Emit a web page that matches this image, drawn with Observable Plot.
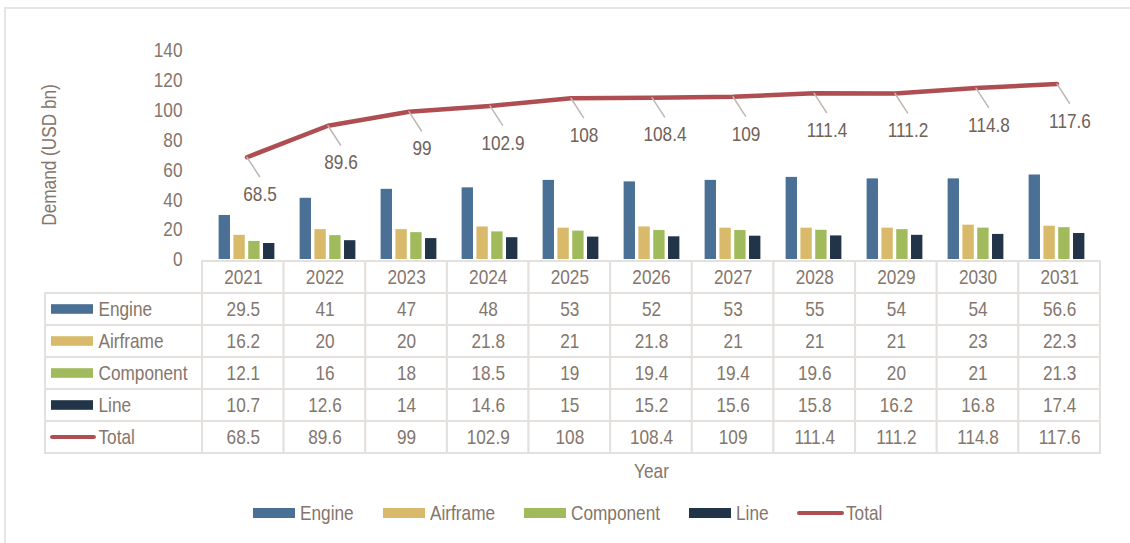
<!DOCTYPE html>
<html><head><meta charset="utf-8">
<script src="https://cdn.jsdelivr.net/npm/d3@7"></script>
<script src="https://cdn.jsdelivr.net/npm/@observablehq/plot@0.6"></script>
<style>
html,body{margin:0;padding:0;background:#fff;}
#wrap{position:relative;width:1130px;height:543px;overflow:hidden;background:#fff;font-family:'Liberation Sans',Arial,sans-serif;}
#border{position:absolute;left:4px;top:7px;width:1140px;height:560px;border-top:2px solid #e8e4e1;border-left:2px solid #e8e4e1;}
.layer{position:absolute;left:0;top:0;}
#legend{position:absolute;left:253px;top:500px;height:26px;display:flex;align-items:center;font-size:21px;color:#84766c;white-space:nowrap;}
#legend .item{display:flex;align-items:center;margin-right:29px;}
#legend .sw{display:inline-block;width:42px;height:10px;margin-right:5px;}
#legend .ln{display:inline-block;width:47px;height:4.5px;border-radius:2.5px;margin-right:2px;}
#legend .tx{display:inline-block;transform:scaleX(0.82);transform-origin:0 50%;}
</style></head>
<body>
<div id="wrap"><div id="border"></div></div>
<script>
const years = [2021, 2022, 2023, 2024, 2025, 2026, 2027, 2028, 2029, 2030, 2031];
const engine = [29.5, 41, 47, 48, 53, 52, 53, 55, 54, 54, 56.6];
const airframe = [16.2, 20, 20, 21.8, 21, 21.8, 21, 21, 21, 23, 22.3];
const component = [12.1, 16, 18, 18.5, 19, 19.4, 19.4, 19.6, 20, 21, 21.3];
const line = [10.7, 12.6, 14, 14.6, 15, 15.2, 15.6, 15.8, 16.2, 16.8, 17.4];
const total = [68.5, 89.6, 99, 102.9, 108, 108.4, 109, 111.4, 111.2, 114.8, 117.6];
const seriesNames = ["Engine", "Airframe", "Component", "Line", "Total"];
const colors = ["#4a7096", "#d8ba6a", "#a1bb5c", "#223447", "#ae4e52"];
const yTicks = [0, 20, 40, 60, 80, 100, 120, 140];
const yTitle = "Demand (USD bn)";
const xTitle = "Year";

const FONT = "'Liberation Sans',Arial,sans-serif";
const NARROW = 0.82; // horizontal condensing of all texts
const TEXT = "#84766c", LABEL = "#6f6258", GRID = "#e4e0dd", LEADER = "#c0b7b0";
const W = 1130, H = 543;
const X0 = 202, X1 = 1100;
const bw = (X1 - X0) / years.length;
const barW = 12, step = 14.8;

const barValues = [engine, airframe, component, line];
const barData = seriesNames.slice(0, 4).flatMap((s, k) =>
  years.map((yr, i) => ({series: s, year: String(yr), value: barValues[k][i]})));
const totalData = years.map((yr, i) => ({year: String(yr), value: total[i]}));

const wrap = document.getElementById("wrap");

function condense(svg) {
  svg.querySelectorAll("text").forEach(t => {
    let pre = "";
    const x = t.getAttribute("x");
    if (x !== null && !isNaN(+x)) { pre = ` translate(${+x},0)`; t.removeAttribute("x"); }
    const tr = t.getAttribute("transform") || "";
    t.setAttribute("transform", `${tr}${pre} scale(${NARROW},1)`);
  });
}

// ---- chart layer ----
const chart = Plot.plot({
  width: W, height: 270,
  marginTop: 50, marginBottom: 11, marginLeft: X0, marginRight: W - X1,
  style: {fontFamily: FONT, fontSize: "21px", color: TEXT, background: "transparent", overflow: "visible"},
  x: {type: "band", domain: years.map(String), range: [X0, X1], padding: 0, axis: null},
  y: {domain: [0, 140], range: [259, 50], ticks: yTicks, tickSize: 0, tickPadding: 20, label: null},
  marks: [
    ...seriesNames.slice(0, 4).map((s, k) => Plot.barY(barData.filter(d => d.series === s), {
      x: "year", y: "value", fill: colors[k], dx: (k - 1.5) * step,
      insetLeft: (bw - barW) / 2, insetRight: (bw - barW) / 2
    })),
    Plot.line(totalData, {x: "year", y: "value", stroke: colors[4], strokeWidth: 4.5, strokeLinecap: "round", strokeLinejoin: "round"}),
    Plot.vector(totalData, {x: "year", y: "value", anchor: "start", length: 23, rotate: 147, stroke: LEADER, strokeWidth: 1.5,
      shape: {draw(c, l) { c.moveTo(0, 0); c.lineTo(0, -l); }}}),
    Plot.text(totalData, {x: "year", y: "value", text: d => String(d.value), dx: 13, dy: 37, fill: LABEL, fontSize: 21}),
    Plot.text([yTitle], {frameAnchor: "left", textAnchor: "middle", lineAnchor: "middle", rotate: -90, dx: -153, fill: TEXT, fontSize: 21})
  ]
});

// ---- data table layer ----
const rows = ["header", ...seriesNames];
const tableValues = [engine, airframe, component, line, total];
const cells = [];
years.forEach((yr, i) => cells.push({row: "header", col: i, text: String(yr)}));
seriesNames.forEach((s, k) => years.forEach((yr, i) => cells.push({row: s, col: i, text: String(tableValues[k][i])})));
const labelStart = (45 - X0) / bw;
const labelW = X0 - 45;

const table = Plot.plot({
  width: W, height: H,
  marginTop: 259, marginBottom: H - 454, marginLeft: X0, marginRight: W - X1,
  style: {fontFamily: FONT, fontSize: "21px", color: TEXT, background: "transparent", overflow: "visible"},
  x: {type: "linear", domain: [0, years.length], range: [X0, X1], axis: null},
  y: {type: "band", domain: rows, range: [259, 454], padding: 0, axis: null},
  color: {type: "identity"},
  marks: [
    Plot.barX(cells, {x1: d => d.col, x2: d => d.col + 1, y: "row", fill: "white", stroke: GRID, strokeWidth: 2}),
    Plot.barX(seriesNames, {x1: () => labelStart, x2: () => 0, y: d => d, fill: "white", stroke: GRID, strokeWidth: 2}),
    Plot.text(cells, {x: d => d.col + 0.5, y: "row", text: "text", fill: TEXT, fontSize: 21}),
    Plot.barX(seriesNames.slice(0, 4), {x1: () => labelStart, x2: () => 0, y: d => d, fill: (d, i) => colors[i],
      insetLeft: 6, insetRight: labelW - 48, insetTop: 11.2, insetBottom: 11.2}),
    Plot.barX(seriesNames.slice(4), {x1: () => labelStart, x2: () => 0, y: d => d, fill: colors[4],
      insetLeft: 5, insetRight: labelW - 51, insetTop: 14, insetBottom: 14, rx: 2.3}),
    Plot.text(seriesNames, {x: () => labelStart, y: d => d, dx: 53, textAnchor: "start", text: d => d, fill: TEXT, fontSize: 21}),
    Plot.text([xTitle], {frameAnchor: "bottom", textAnchor: "middle", lineAnchor: "middle", dy: 17, fill: TEXT, fontSize: 21})
  ]
});

condense(table);
condense(chart);
table.classList.add("layer");
chart.classList.add("layer");
wrap.appendChild(table);
wrap.appendChild(chart);

// ---- legend ----
const legend = document.createElement("div");
legend.id = "legend";
wrap.appendChild(legend);
seriesNames.forEach((s, k) => {
  const item = document.createElement("div");
  item.className = "item";
  const sw = document.createElement("span");
  sw.className = k < 4 ? "sw" : "ln";
  sw.style.background = colors[k];
  const t = document.createElement("span");
  t.className = "tx";
  t.textContent = s;
  item.appendChild(sw); item.appendChild(t);
  legend.appendChild(item);
  t.style.marginRight = `${-(1 - NARROW) * t.offsetWidth}px`;
});
</script>
</body></html>
